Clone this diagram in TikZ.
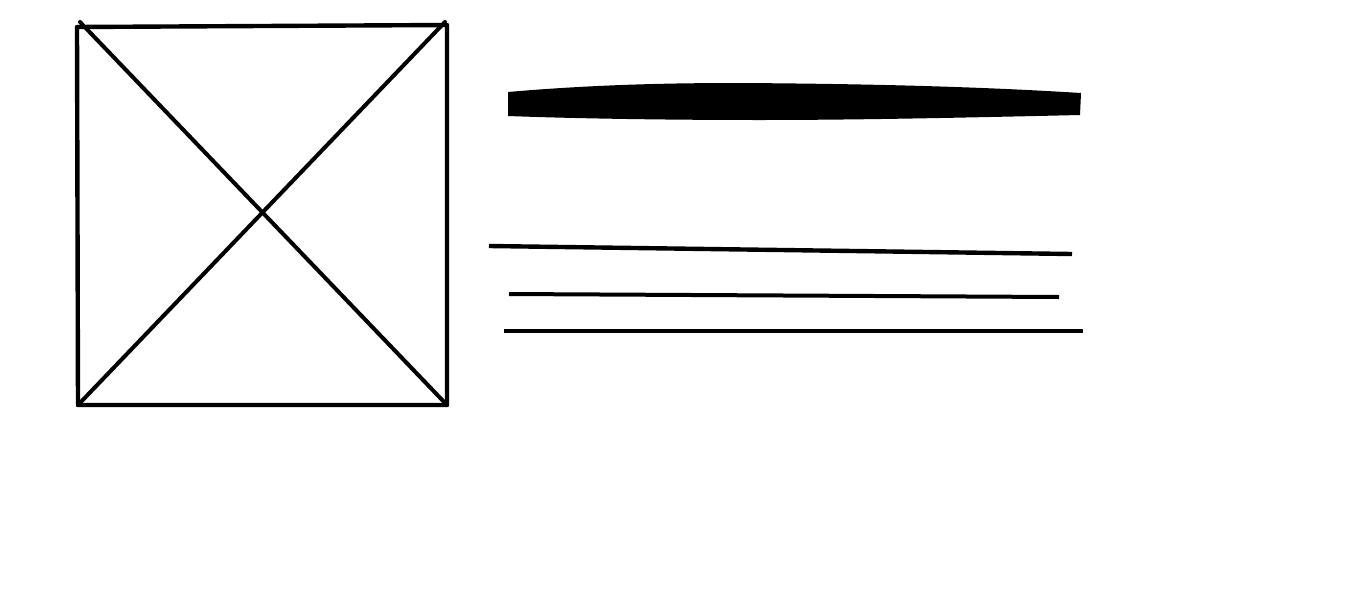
\documentclass[tikz,border=0pt]{standalone}
\begin{document}
\begin{tikzpicture}[x=1pt,y=-1pt,
  sketch/.style={draw=black,line width=4.4pt,line cap=round,line join=round},
  thin sketch/.style={draw=black,line width=4pt,line cap=round}]
\useasboundingbox (0,0) rectangle (1366,600);
% image placeholder box
\coordinate (tl) at (77,27);
\coordinate (tr) at (447,25);
\coordinate (br) at (447,405);
\coordinate (bl) at (78,405);
\draw[sketch] (tl) -- (tr) -- (br) -- (bl) -- cycle;
\draw[thin sketch] (80,22) -- (br);
\draw[thin sketch] (bl) -- (445,22);
% thick title bar
\fill[black] (508,92) .. controls (600,84) and (680,83) .. (740,83)
  .. controls (900,84) and (1000,88) .. (1081,93) -- (1080,115)
  .. controls (950,118) and (850,120) .. (760,120)
  .. controls (650,120) and (560,118) .. (508,116) -- cycle;
% text lines
\coordinate (l1a) at (489,246); \coordinate (l1b) at (1072,254);
\coordinate (l2a) at (509,294); \coordinate (l2b) at (1059,297);
\coordinate (l3a) at (504,331); \coordinate (l3b) at (1083,331);
\draw[sketch,line cap=butt] (l1a) -- (l1b);
\draw[thin sketch,line cap=butt] (l2a) -- (l2b);
\draw[sketch,line cap=butt] (l3a) -- (l3b);
\end{tikzpicture}
\end{document}
